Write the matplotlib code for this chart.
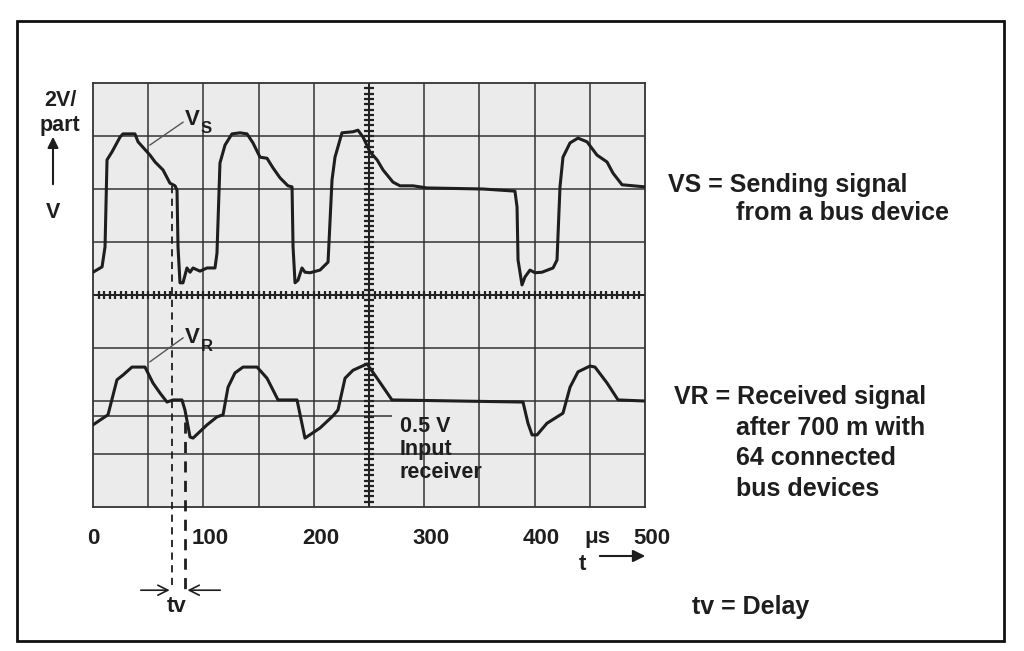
import numpy as np
import matplotlib
matplotlib.use('Agg')
from matplotlib import pyplot as plt
from matplotlib.patches import Rectangle, FancyArrowPatch
from matplotlib.transforms import ScaledTranslation

plt.rcParams['font.family'] = ['Liberation Sans', 'DejaVu Sans']
plt.rcParams['font.weight'] = 'bold'

# time in us, level in screen divisions (0 = bottom, 8 = top, 2 V / div)
vs_t = [0, 8.2, 10.9, 12.7, 17.2, 24.5, 27.2, 38.0, 40.8, 51.6, 56.2, 63.4, 69.7, 74.3,
        76.1, 77.0, 78.8, 81.5, 85.1, 87.9, 90.6, 96.9, 103.3, 110.5, 112.3, 115.0,
        119.6, 125.9, 133.2, 139.5, 144.9, 151.3, 157.6, 163.0, 169.4, 176.6, 180.3,
        181.2, 183.0, 185.7, 189.3, 192.0, 196.6, 205.6, 212.9, 216.5, 219.2, 225.5,
        235.5, 240.0, 244.6, 250.9, 257.3, 262.7, 271.7, 278.1, 289.9, 302.5, 353.3,
        382.2, 384.1, 385.0, 388.6, 391.3, 395.8, 400.4, 406.7, 416.7, 420.3, 423.0,
        425.7, 432.1, 439.3, 447.5, 456.5, 465.6, 471.0, 479.2, 500]
vs_v = [4.43, 4.53, 4.91, 6.55, 6.70, 6.98, 7.04, 7.04, 6.89, 6.64, 6.51, 6.36, 6.11, 6.06,
        5.98, 4.91, 4.23, 4.23, 4.51, 4.43, 4.51, 4.45, 4.51, 4.51, 4.79, 6.49,
        6.83, 7.04, 7.06, 7.04, 6.87, 6.60, 6.58, 6.40, 6.21, 6.06, 6.04,
        4.91, 4.23, 4.28, 4.51, 4.43, 4.42, 4.47, 4.62, 6.17, 6.60, 7.06,
        7.08, 7.11, 6.98, 6.70, 6.55, 6.36, 6.13, 6.06, 6.06, 6.02, 6.00,
        5.96, 5.66, 4.66, 4.19, 4.34, 4.47, 4.42, 4.43, 4.51, 4.66, 6.04,
        6.60, 6.87, 6.96, 6.89, 6.64, 6.51, 6.30, 6.08, 6.04]

vr_t = [0, 13.6, 21.7, 27.2, 35.3, 47.1, 54.3, 60.7, 67.0, 72.5, 80.6, 83.3, 87.9, 90.6,
        103.3, 112.3, 117.8, 122.3, 128.6, 135.9, 148.6, 157.6, 167.6, 184.8, 192.0,
        205.6, 217.4, 221.9, 228.3, 235.5, 248.2, 257.3, 270.8, 389.5, 394.0, 397.7,
        402.2, 411.2, 425.7, 432.1, 439.3, 450.2, 454.7, 465.6, 475.6, 500]
vr_v = [1.55, 1.74, 2.40, 2.49, 2.64, 2.64, 2.34, 2.15, 1.98, 2.02, 2.02, 1.83, 1.32, 1.30,
        1.55, 1.70, 1.74, 2.26, 2.53, 2.64, 2.64, 2.43, 2.02, 2.02, 1.30,
        1.49, 1.72, 1.83, 2.43, 2.58, 2.70, 2.43, 2.02, 1.98, 1.58, 1.36,
        1.36, 1.58, 1.77, 2.26, 2.55, 2.66, 2.64, 2.34, 2.02, 2.00]

x_ticks = [0, 100, 200, 300, 400, 500]
x_labels = ['0', '100', '200', '300', '400', '500']
threshold = 1.72      # 0.5 V input receiver level
t_send = 72           # sender edge crosses
t_recv = 83           # receiver edge crosses

W, H = 1024, 651
ink = '#1e1e1e'

def fx(x):
    return x / W

def fy(y):
    return 1 - y / H

fig = plt.figure(figsize=(W / 100, H / 100), dpi=100)
fig.patch.set_facecolor('white')
ax = fig.add_axes([fx(93), fy(507), 552 / W, 424 / H])
ax.set_facecolor('#ebebeb')
ax.set_xlim(0, 500)
ax.set_ylim(0, 8)

# graticule
for t in np.arange(50, 500, 50):
    ax.axvline(t, color='#333333', lw=1.1, zorder=1)
for v in np.arange(1, 8, 1):
    ax.axhline(v, color='#333333', lw=1.1, zorder=1)
ax.vlines(np.arange(5, 500, 5), 4 - 0.08, 4 + 0.08, color='#222222', lw=1.6, zorder=2)
ax.hlines(np.arange(0.1, 8, 0.1), 250 - 4.5, 250 + 4.5, color='#222222', lw=1.6, zorder=2)
ax.axhline(4, color='#222222', lw=1.4, zorder=2)
ax.axvline(250, color='#222222', lw=1.4, zorder=2)
ax.hlines(threshold, 0, 271, color='#333333', lw=1.1, zorder=1)

for s in ax.spines.values():
    s.set_color('#333333')
    s.set_linewidth(1.3)

ax.set_xticks(x_ticks)
ax.set_xticklabels(x_labels, fontsize=16, color=ink, fontweight='bold')
ax.set_yticks([])
ax.tick_params(axis='x', length=0, pad=15)
for lab in ax.get_xticklabels()[1:]:
    lab.set_transform(lab.get_transform() + ScaledTranslation(0.07, 0, fig.dpi_scale_trans))

# traces
ax.plot(vs_t, vs_v, color=ink, lw=2.2, zorder=4, solid_joinstyle='round')
ax.plot(vr_t, vr_v, color=ink, lw=2.2, zorder=4, solid_joinstyle='round')

# delay markers
ax.plot([t_send, t_send], [6.06, -1.57], color=ink, lw=1.3, dashes=(4, 3), clip_on=False, zorder=5)
ax.plot([t_recv, t_recv], [1.6, -1.57], color=ink, lw=2.0, dashes=(4, 3), clip_on=False, zorder=5)
ax.annotate('', xy=(t_send, -1.57), xytext=(40.8, -1.57), annotation_clip=False,
            arrowprops=dict(arrowstyle='->', color=ink, lw=1.2, mutation_scale=18))
ax.annotate('', xy=(t_recv, -1.57), xytext=(117.8, -1.57), annotation_clip=False,
            arrowprops=dict(arrowstyle='->', color=ink, lw=1.2, mutation_scale=18))

# trace labels with leader lines
ax.plot([51.6, 81.5], [6.83, 7.26], color='#555555', lw=1.0, zorder=3)
ax.plot([51.6, 81.5], [2.74, 3.19], color='#555555', lw=1.0, zorder=3)
ax.text(83, 7.32, 'V', fontsize=16, color=ink, va='center', ha='left')
ax.text(97.5, 7.15, 'S', fontsize=12, color=ink, va='center', ha='left')
ax.text(83, 3.2, 'V', fontsize=16, color=ink, va='center', ha='left')
ax.text(97.5, 3.03, 'R', fontsize=12, color=ink, va='center', ha='left')

for i, line in enumerate(['0.5 V', 'Input', 'receiver']):
    ax.text(278, (507 - 427 - 23 * i) / 53, line, fontsize=15.5, color=ink,
            va='center', ha='left', zorder=6)

# figure texts
fig.text(fx(60), fy(101), '2V/', fontsize=15.5, color=ink, ha='center', va='center')
fig.text(fx(60), fy(125), 'part', fontsize=15.5, color=ink, ha='center', va='center')
fig.text(fx(53), fy(212), 'V', fontsize=15.5, color=ink, ha='center', va='center')
fig.add_artist(FancyArrowPatch((fx(53), fy(187)), (fx(53), fy(134)),
               transform=fig.transFigure, arrowstyle='-|>', mutation_scale=16,
               color=ink, lw=1.5))
fig.text(fx(597), fy(537), 'μs', fontsize=16, color=ink, ha='center', va='center')
fig.text(fx(582), fy(565), 't', fontsize=16, color=ink, ha='center', va='center')
fig.add_artist(FancyArrowPatch((fx(597), fy(556)), (fx(648), fy(556)),
               transform=fig.transFigure, arrowstyle='-|>', mutation_scale=18,
               color=ink, lw=1.5))
fig.text(fx(177), fy(607), 'tv', fontsize=16, color=ink, ha='center', va='center')

fs = 18
fig.text(fx(668), fy(185), 'VS = Sending signal', fontsize=fs, color=ink, va='center')
fig.text(fx(736), fy(213), 'from a bus device', fontsize=fs, color=ink, va='center')
fig.text(fx(674), fy(397), 'VR = Received signal', fontsize=fs, color=ink, va='center')
fig.text(fx(736), fy(428), 'after 700 m with', fontsize=fs, color=ink, va='center')
fig.text(fx(736), fy(458), '64 connected', fontsize=fs, color=ink, va='center')
fig.text(fx(736), fy(489), 'bus devices', fontsize=fs, color=ink, va='center')
fig.text(fx(692), fy(607), 'tv = Delay', fontsize=fs, color=ink, va='center')

# outer frame
fig.add_artist(Rectangle((fx(17), fy(641)), 987 / W, 620 / H, transform=fig.transFigure,
                         fill=False, edgecolor='#111111', lw=2.0))

fig.savefig('out.png', dpi=100)
